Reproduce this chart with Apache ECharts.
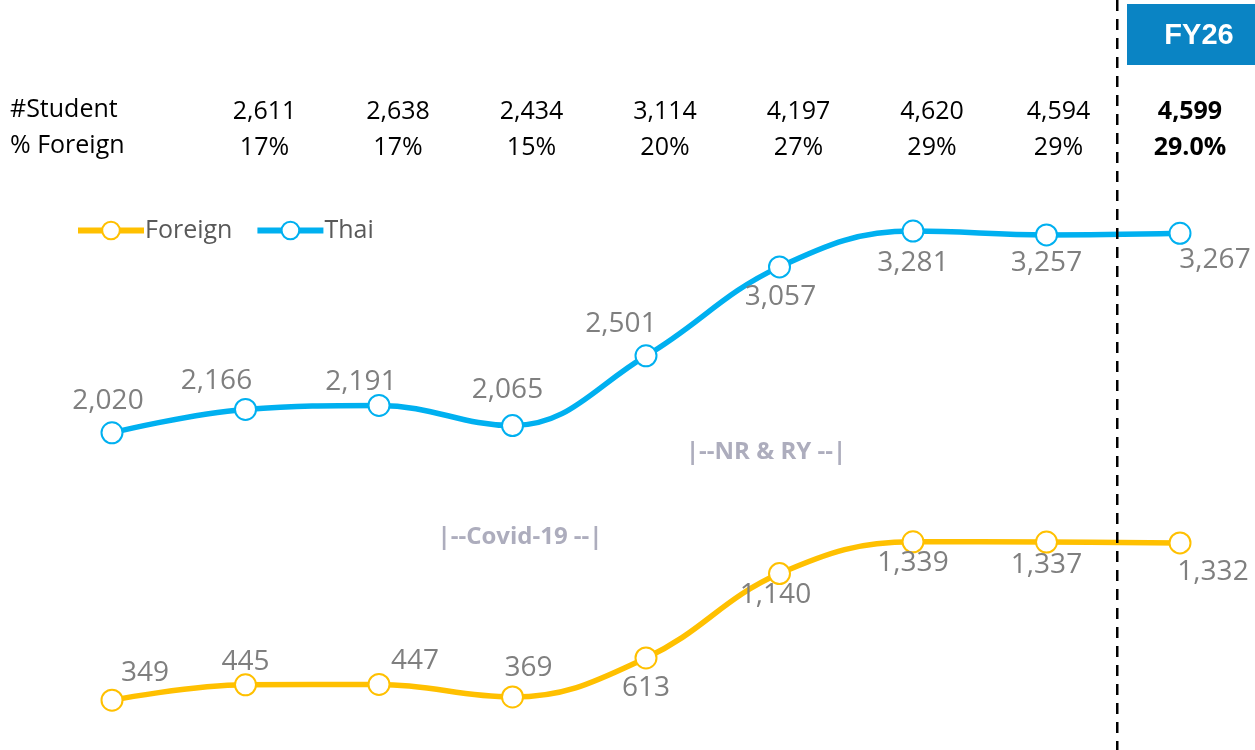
<!DOCTYPE html>
<html>
<head>
<meta charset="utf-8">
<script src="https://cdn.jsdelivr.net/npm/echarts@6/dist/echarts.min.js"></script>
<style>
  html, body { margin: 0; background: #fff; }
  #main { width: 1255px; height: 750px; }
</style>
</head>
<body>
<div id="main"></div>
<script>
// chart data
var years = ['FY18', 'FY19', 'FY20', 'FY21', 'FY22', 'FY23', 'FY24', 'FY25', 'FY26']
var thai = [2020, 2166, 2191, 2065, 2501, 3057, 3281, 3257, 3267]
var foreign = [349, 445, 447, 369, 613, 1140, 1339, 1337, 1332]
// header table (no column for the first year)
var studentRow = ['2,611', '2,638', '2,434', '3,114', '4,197', '4,620', '4,594', '4,599']
var foreignPctRow = ['17%', '17%', '15%', '20%', '27%', '29%', '29%', '29.0%']

// label nudges, one per point
var thaiLabelOffset = [[-4, -32], [-29, -28], [-18, -23], [-5, -36], [-25, -32], [1, 30], [0, 32], [0, 28], [35, 27]]
var foreignLabelOffset = [[33, -27], [0, -23], [36, -23], [16, -29], [0, 30], [-4, 21], [0, 21], [0, 23], [33, 29]]

var FONT = '"Open Sans", "Noto Sans", sans-serif'
var BLUE = '#00B0F0'
var GOLD = '#FFC000'

function withLabels(values, offsets) {
  return values.map(function (v, i) {
    return { value: v, label: { offset: offsets[i] } }
  })
}

function lineSeries(name, color, values, offsets) {
  return {
    name: name,
    type: 'line',
    smooth: 0.4,
    symbol: 'circle',
    symbolSize: 21,
    lineStyle: { color: color, width: 5.5 },
    itemStyle: { color: '#fff', borderColor: color, borderWidth: 2 },
    label: {
      show: true,
      position: 'inside',
      color: '#7F7F7F',
      fontFamily: FONT,
      fontSize: 28,
      formatter: function (p) { return p.value.toLocaleString('en-US') }
    },
    emphasis: { disabled: true },
    data: withLabels(values, offsets)
  }
}

var myChart = echarts.init(document.getElementById('main'))
var option = {
  animation: false,
  grid: { left: 112, right: 75, top: 200, bottom: 10 },
  legend: {
    left: 70,
    top: 213,
    itemWidth: 66,
    itemHeight: 22,
    itemGap: 22,
    lineStyle: { width: 6 },
    textStyle: { color: '#595959', fontFamily: FONT, fontSize: 25, padding: [0, 0, 0, -4] },
    data: ['Foreign', 'Thai']
  },
  xAxis: {
    type: 'category',
    boundaryGap: false,
    data: years,
    show: false
  },
  yAxis: {
    type: 'value',
    min: 100,
    max: 3475,
    show: false
  },
  series: [
    lineSeries('Foreign', GOLD, foreign, foreignLabelOffset),
    lineSeries('Thai', BLUE, thai, thaiLabelOffset)
  ]
}
myChart.setOption(option)

// header table, dashed divider, FY26 box and notes
var graphics = []
var headStyle = { fill: '#000', fontFamily: FONT, fontSize: 25 }
graphics.push({ type: 'text', left: 10, top: 97, style: Object.assign({ text: '#Student' }, headStyle) })
graphics.push({ type: 'text', left: 10, top: 133, style: Object.assign({ text: '% Foreign' }, headStyle) })
for (var i = 0; i < studentRow.length; i++) {
  var cx = myChart.convertToPixel({ xAxisIndex: 0 }, years[i + 1]) + (i < 6 ? 19 : (i === 6 ? 12 : 10))
  var bold = i === studentRow.length - 1 ? 'bold' : 'normal'
  graphics.push({ type: 'text', x: cx, y: 112, style: { text: studentRow[i], fill: '#000', fontFamily: FONT, fontSize: 25, fontWeight: bold, align: 'center', verticalAlign: 'middle' } })
  graphics.push({ type: 'text', x: cx, y: 148, style: { text: foreignPctRow[i], fill: '#000', fontFamily: FONT, fontSize: 25, fontWeight: bold, align: 'center', verticalAlign: 'middle' } })
}
var divX = (myChart.convertToPixel({ xAxisIndex: 0 }, years[7]) + myChart.convertToPixel({ xAxisIndex: 0 }, years[8])) / 2 + 4
graphics.push({
  type: 'line', z: 10,
  shape: { x1: divX, y1: 0, x2: divX, y2: 750 },
  style: { stroke: '#000', lineWidth: 2.5, lineDash: [11, 8] }
})
graphics.push({
  type: 'rect',
  shape: { x: 1127, y: 4, width: 128, height: 61 },
  style: { fill: '#0A84C4' }
})
graphics.push({
  type: 'text', x: 1199, y: 36,
  style: { text: 'FY26', fill: '#fff', fontFamily: '"Liberation Sans", Arial, sans-serif', fontWeight: 'bold', fontSize: 29, align: 'center', verticalAlign: 'middle' }
})
var noteStyle = { fill: '#ADADBD', fontFamily: FONT, fontWeight: 'bold', fontSize: 24, align: 'center', verticalAlign: 'middle' }
graphics.push({ type: 'text', x: 766, y: 452, style: Object.assign({ text: '|--NR & RY --|' }, noteStyle) })
graphics.push({ type: 'text', x: 520, y: 537, style: Object.assign({ text: '|--Covid-19 --|' }, noteStyle) })

myChart.setOption({ graphic: graphics })
</script>
</body>
</html>
